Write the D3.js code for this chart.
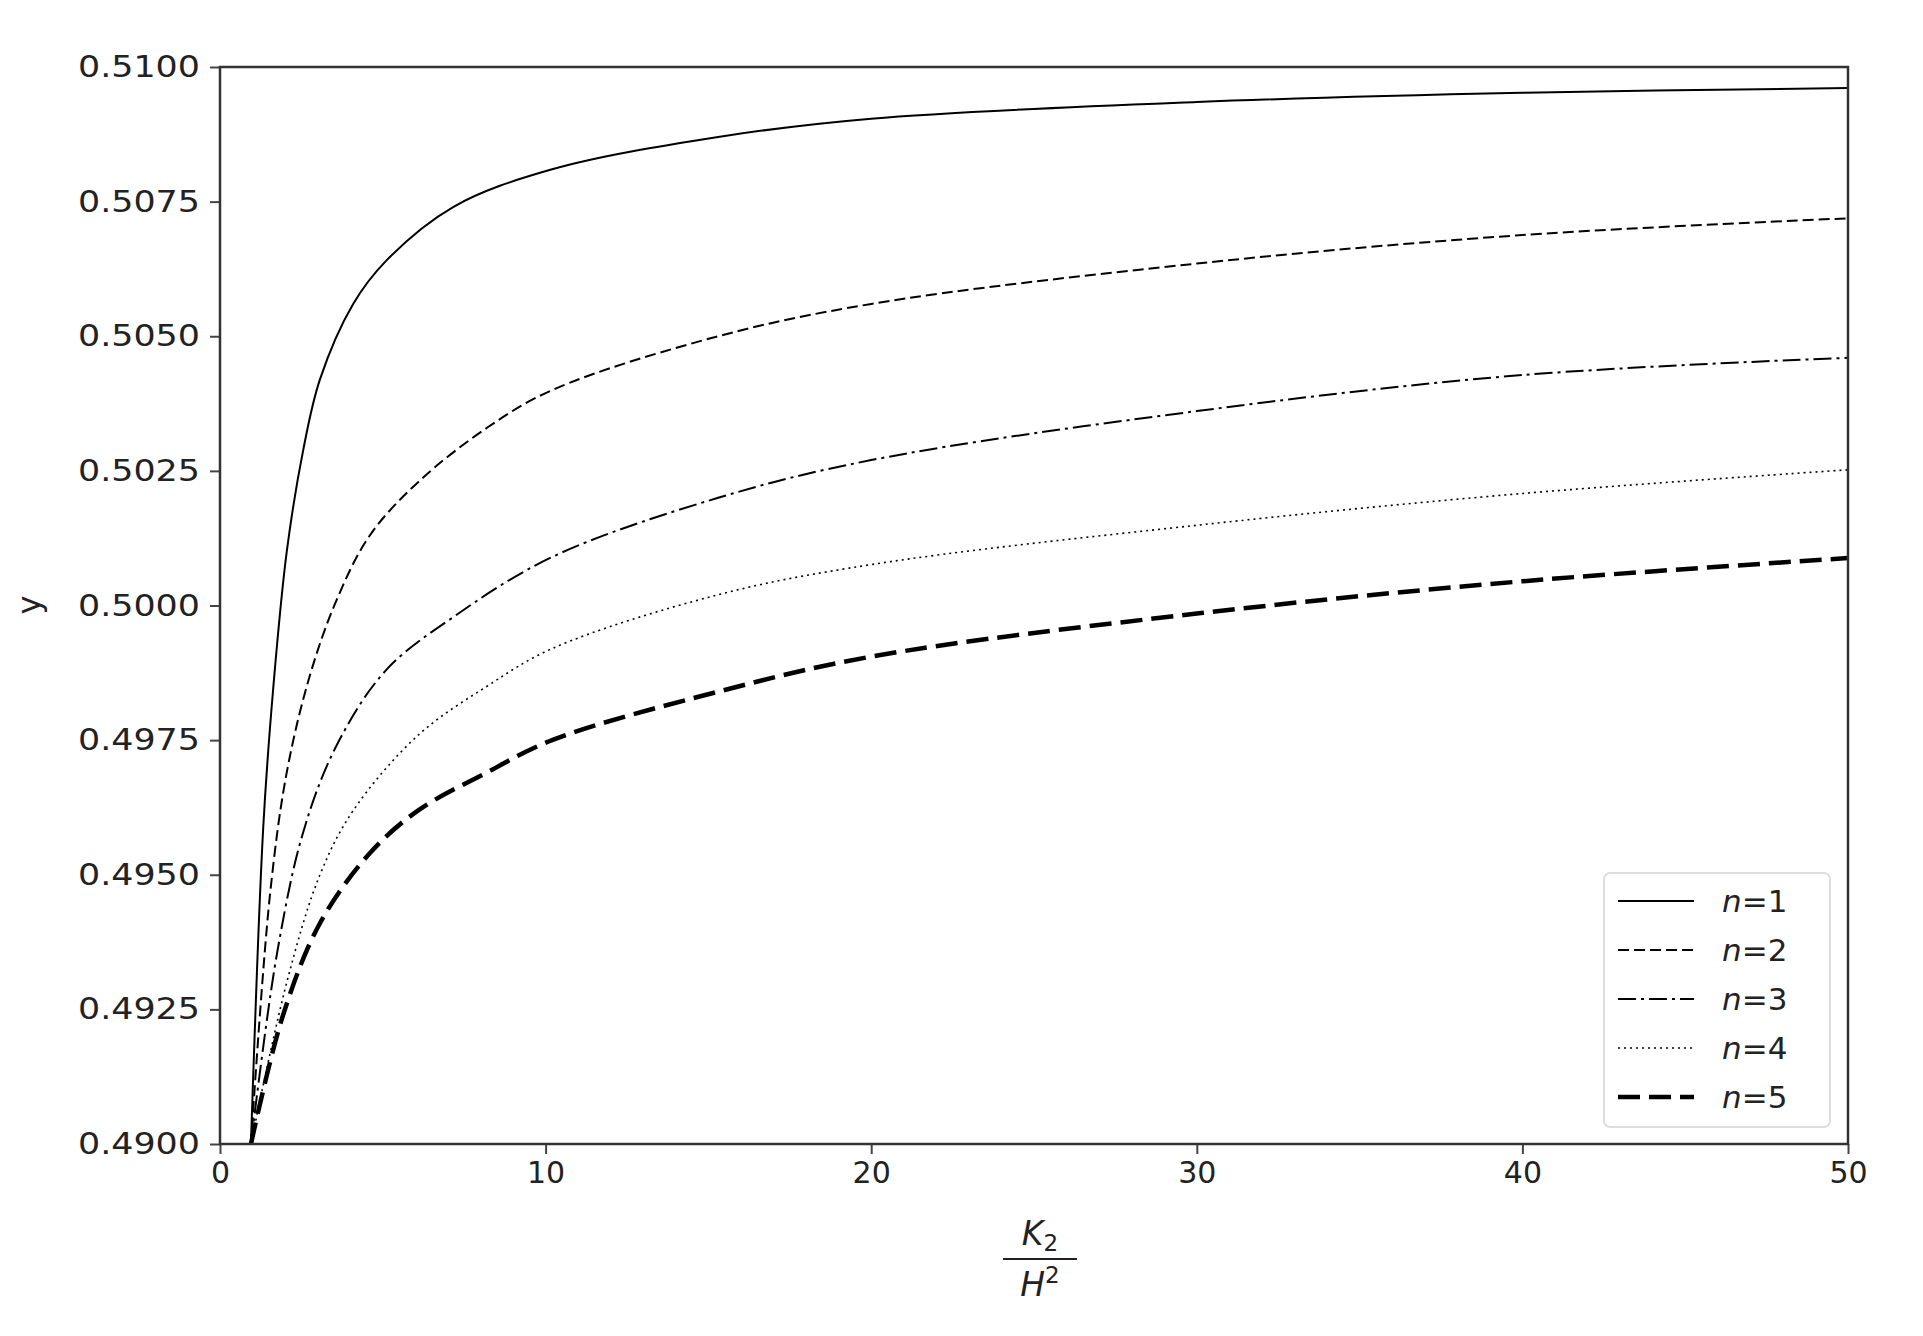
<!DOCTYPE html>
<html><head><meta charset="utf-8">
<script src="https://cdn.jsdelivr.net/npm/d3@7"></script>
<style>body{margin:0;background:#fff}</style></head>
<body><svg id="c" width="1923" height="1336"></svg>
<script>
const xs1 = [0.95,1.33,1.64,2.05,2.56,3.07,4.09,5.1,7.16,10.2,15.3,20,30,40,50];
const ys1 = [0.4900,0.4959,0.4985,0.5010,0.5029,0.5042,0.5056,0.5064,0.5074,0.5081,0.5087,0.50904,0.50935,0.50952,0.50961];
const xs2 = [0.95,1.53,2.05,2.76,3.58,4.6,6.1,8.2,10.2,15.3,20,30,40,50];
const ys2 = [0.4900,0.4946,0.4969,0.4987,0.5001,0.5013,0.5023,0.5033,0.5040,0.5050,0.50560,0.50635,0.50688,0.50719];
const xs3 = [0.95,1.74,2.56,3.58,5.1,7.2,10.2,15.3,20,30,40,50];
const ys3 = [0.4900,0.4935,0.4958,0.4974,0.4988,0.4998,0.5009,0.5020,0.50270,0.50361,0.50428,0.50460];
const xs4 = [0.95,2.05,3.07,4.1,6.1,8.2,10.2,15.3,20,30,40,50];
const ys4 = [0.4900,0.4930,0.4950,0.4962,0.4976,0.4985,0.4992,0.5002,0.50076,0.50149,0.50208,0.50252];
const xs5 = [0.95,1.94,3.07,4.6,6.1,8.2,10.2,15.3,20,30,40,50];
const ys5 = [0.4900,0.4924,0.4941,0.4954,0.4962,0.4969,0.4975,0.4984,0.49905,0.49985,0.50045,0.50088];
const names = ["1","2","3","4","5"];
const xTicks = [0,10,20,30,40,50];
const yTicks = [0.4900,0.4925,0.4950,0.4975,0.5000,0.5025,0.5050,0.5075,0.5100];

const series = [[xs1,ys1],[xs2,ys2],[xs3,ys3],[xs4,ys4],[xs5,ys5]];
const styles = [
 {w:2,d:null},{w:2,d:"11,5"},{w:2,d:"18,5,3,5"},{w:1.6,d:"2,4"},{w:4.5,d:"22,9"}];
const L=220,R=1848,T=67,B=1144;
const svg=d3.select("#c");
const x=d3.scaleLinear().domain([0,50]).range([L,R]);
const y=d3.scaleLinear().domain([0.49,0.51]).range([B,T]);
svg.append("defs").append("clipPath").attr("id","cp").append("rect").attr("x",L).attr("y",T).attr("width",R-L).attr("height",B-T);
const line=d3.line().x(d=>x(d[0])).y(d=>y(d[1])).curve(d3.curveCatmullRom.alpha(0.5));
series.forEach((s,i)=>{
  const pts=s[0].map((v,j)=>[v,s[1][j]]);
  svg.append("path").attr("d",line(pts)).attr("fill","none").attr("stroke","#000")
   .attr("stroke-width",styles[i].w).attr("stroke-dasharray",styles[i].d).attr("clip-path","url(#cp)");
});
const font="'DejaVu Sans'";
const ax=svg.append("g").attr("transform",`translate(0,${B})`).call(d3.axisBottom(x).tickValues(xTicks).tickSize(10).tickPadding(8));
const ay=svg.append("g").attr("transform",`translate(${L},0)`).call(d3.axisLeft(y).tickValues(yTicks).tickFormat(d3.format(".4f")).tickSize(10).tickPadding(10));
[ax,ay].forEach(g=>{g.select(".domain").remove();g.selectAll("line").attr("stroke","#444").attr("stroke-width",2);
 g.selectAll("text").attr("font-family",font).attr("font-size",30).attr("fill","#222");});
ay.selectAll("text").attr("textLength",122).attr("lengthAdjust","spacingAndGlyphs");
svg.append("rect").attr("x",L).attr("y",T).attr("width",R-L).attr("height",B-T).attr("fill","none").attr("stroke","#333").attr("stroke-width",2.5);
svg.append("text").attr("transform","translate(40,605) rotate(-90)").attr("text-anchor","middle").attr("font-family",font).attr("font-size",32).attr("fill","#222").text("y");
const xl=svg.append("g").attr("font-family",font).attr("font-size",33).attr("fill","#222").attr("font-style","italic");
xl.append("text").attr("x",1040).attr("y",1245).attr("text-anchor","middle").html('K<tspan font-size="23" font-style="normal" dy="6">2</tspan>');
xl.append("line").attr("x1",1003).attr("x2",1077).attr("y1",1259).attr("y2",1259).attr("stroke","#222").attr("stroke-width",2);
xl.append("text").attr("x",1040).attr("y",1296).attr("text-anchor","middle").html('H<tspan font-size="23" font-style="normal" dy="-13">2</tspan>');
const lg=svg.append("g");
lg.append("rect").attr("x",1604).attr("y",873).attr("width",226).attr("height",254).attr("rx",6).attr("fill","#fff").attr("stroke","#ddd").attr("stroke-width",2);
names.forEach((n,i)=>{
  const yy=901+i*49;
  lg.append("line").attr("x1",1618).attr("x2",1694).attr("y1",yy).attr("y2",yy).attr("stroke","#000")
   .attr("stroke-width",styles[i].w).attr("stroke-dasharray",styles[i].d);
  const t=lg.append("text").attr("x",1722).attr("y",yy+11).attr("font-family",font).attr("font-size",31).attr("fill","#222");
  t.append("tspan").attr("font-style","italic").text("n");
  t.append("tspan").text("="+n);
});
</script></body></html>
